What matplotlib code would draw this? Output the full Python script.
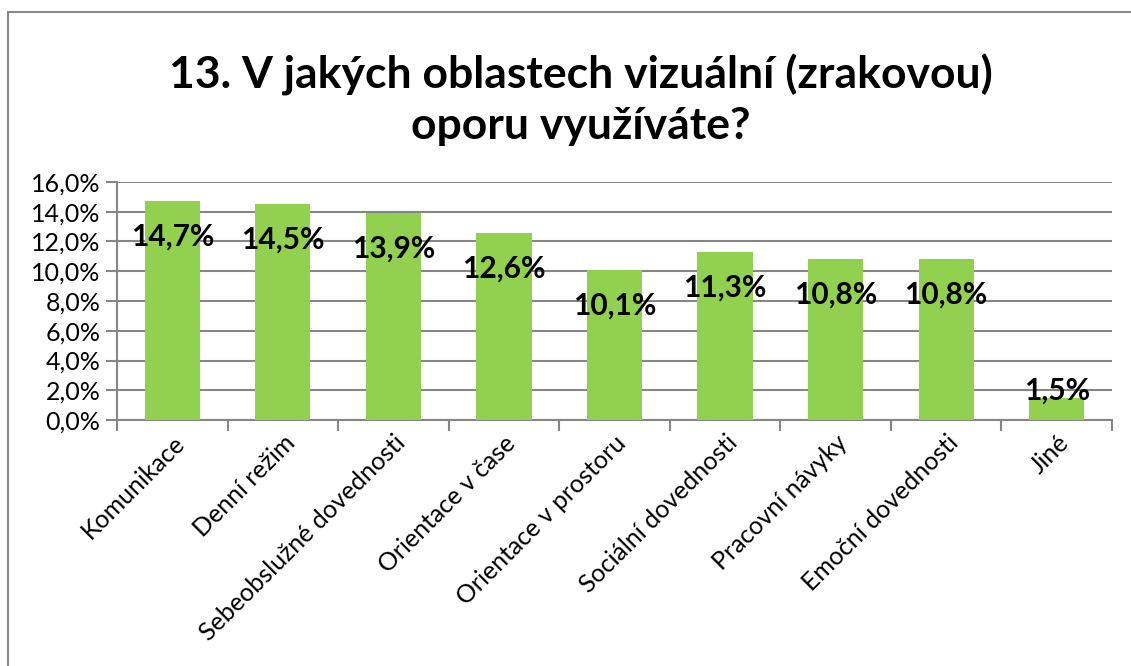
import matplotlib
matplotlib.use("Agg")
import matplotlib.pyplot as plt
from matplotlib.patches import Rectangle
from matplotlib.ticker import FuncFormatter

plt.rcParams['font.family'] = ['Lato', 'DejaVu Sans']

categories = ['Komunikace', 'Denní režim', 'Sebeobslužné dovednosti', 'Orientace v čase',
              'Orientace v prostoru', 'Sociální dovednosti', 'Pracovní návyky',
              'Emoční dovednosti', 'Jiné']
values = [14.7, 14.5, 13.9, 12.6, 10.1, 11.3, 10.8, 10.8, 1.5]
title = '13. V jakých oblastech vizuální (zrakovou)\noporu využíváte?'

fig = plt.figure(figsize=(11.31, 6.66), dpi=100)
ax = fig.add_axes([117/1131, (666-420)/666, (1112-117)/1131, (420-182)/666])

x = range(len(categories))
ax.bar(x, values, width=0.5, color='#92D050', zorder=3)

ax.set_xlim(-0.5, len(categories) - 0.5)
ax.set_ylim(0, 16)
ax.set_yticks(range(0, 17, 2))
ax.yaxis.set_major_formatter(FuncFormatter(lambda v, p: f'{v:.1f}%'.replace('.', ',')))
ax.grid(axis='y', color='#868686', lw=1.5, zorder=0)

# x ticks: labels at centers, marks at category boundaries
ax.set_xticks(list(x))
ax.set_xticklabels(categories, rotation=45, ha='right', rotation_mode='anchor', fontsize=18)
ax.tick_params(axis='x', length=0, pad=8)
ax.set_xticks([i - 0.5 for i in range(len(categories) + 1)], minor=True)
ax.tick_params(axis='x', which='minor', length=8, width=1.5, color='#868686')
ax.tick_params(axis='y', length=8, width=1.5, color='#868686', labelsize=18, pad=4)

for s in ['top', 'right']:
    ax.spines[s].set_visible(False)
ax.spines['left'].set_color('#868686')
ax.spines['bottom'].set_color('#868686')
ax.spines['left'].set_linewidth(1.5)
ax.spines['bottom'].set_linewidth(1.5)

for i, v in enumerate(values):
    ly = v - 2.4 if v > 3 else v + 0.5
    ax.text(i, ly, f'{v:.1f}%'.replace('.', ','), ha='center', va='center',
            fontsize=21.5, fontweight='bold', zorder=4)

fig.text(581/1131, 1 - 100/666, title, ha='center', va='center',
         fontsize=32, fontweight='bold', linespacing=1.3)

fig.patches.append(Rectangle((8/1131, -0.05), 1.2, (666-12)/666 + 0.05,
                             transform=fig.transFigure, fill=False,
                             edgecolor='#888888', lw=1.5))

fig.savefig('out.png', dpi=100)
